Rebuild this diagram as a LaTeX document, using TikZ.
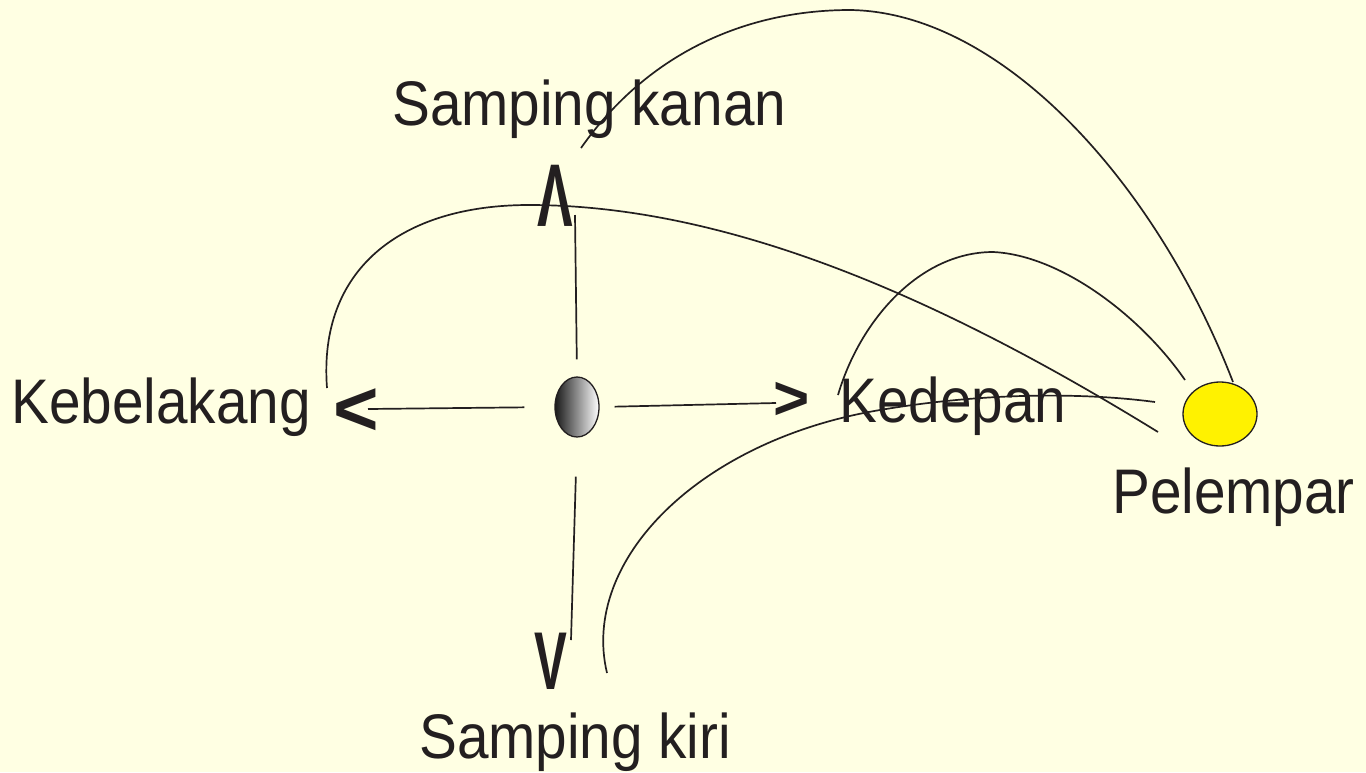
\documentclass[tikz,border=0pt]{standalone}
\usepackage{fontspec}
\setmainfont{Liberation Sans}
\newfontfamily\wordfont[FakeStretch=0.9]{Liberation Sans}
\newfontfamily\chevfont[FakeStretch=0.6]{Liberation Sans}
\usetikzlibrary{positioning,calc,shapes.geometric}
\definecolor{paper}{HTML}{FFFFE3}
\definecolor{ink}{HTML}{231F20}

\begin{document}
\begin{tikzpicture}[
    x=1pt, y=-1pt,
    word/.style={font=\wordfont\fontsize{63}{70}\selectfont, text=ink, inner sep=0pt, anchor=base west},
    chevron/.style={font=\chevfont\bfseries\fontsize{#1}{#1}\selectfont, text=ink, inner sep=0pt, anchor=base},
    sign/.style={font=\bfseries\fontsize{#1}{#1}\selectfont, text=ink, inner sep=0pt, anchor=base},
    ball/.style={draw=ink, ellipse, line width=1.3pt, minimum width=44pt, minimum height=60pt, left color=black!90, right color=white},
    thrower/.style={draw=ink, ellipse, line width=1.3pt, fill=yellow, minimum width=74pt, minimum height=64pt},
    wire/.style={draw=ink, line width=1.7pt}
]
\fill[paper] (0,0) rectangle (1366,772);
\useasboundingbox (0,0) rectangle (1366,772);

% Nodes
\node[ball] (ball) at (577,407) {};
\node[thrower] (thrower) at (1220,414) {};

\node[word] (kanan) at (392,125) {Samping kanan};
\node[word] (kiri) at (419,758) {Samping kiri};
\node[word] (belakang) at (11,423) {Kebelakang};
\node[word] (depan) at (839,422) {Kedepan};
\node[word] (pelempar) at (1112,513) {Pelempar};

\node[chevron=89] (upmark) at (555,226) {Λ};
\node[chevron=82] (downmark) at (551,689) {V};
\node[sign=78] (leftmark) at (356,435) {<};
\node[sign=62] (rightmark) at (792,419) {>};

% Line ends
\coordinate (upend) at (575,215);
\coordinate (downend) at (571,640);
\coordinate (leftend) at (368,409);
\coordinate (rightend) at (776,403);

\coordinate (kananstart) at (581,148);
\coordinate (belakangstart) at (327,388);
\coordinate (depanstart) at (838,395);
\coordinate (kiristart) at (607,673);

\coordinate (kananend) at (1233,382);
\coordinate (belakangend) at (1158,432);
\coordinate (depanend) at (1185,380);
\coordinate (kiriend) at (1155,402);

% Connections
\draw[wire, shorten <=17pt] (ball.north) -- (upend);
\draw[wire, shorten <=39pt] (ball.south) -- (downend);
\draw[wire, shorten <=30pt] (ball.west) -- (leftend);
\draw[wire, shorten <=15pt] (ball.east) -- (rightend);

\draw[wire] (kananstart) .. controls (650,50) and (750,10) .. (850,10)
    .. controls (1000,12) and (1155,180) .. (kananend);
\draw[wire] (belakangstart) .. controls (318,270) and (400,205) .. (529,205)
    .. controls (740,205) and (960,310) .. (belakangend);
\draw[wire] (depanstart) .. controls (860,320) and (920,252) .. (993,252)
    .. controls (1060,255) and (1140,315) .. (depanend);
\draw[wire] (kiristart) .. controls (580,560) and (700,440) .. (880,410)
    .. controls (980,393) and (1080,392) .. (kiriend);

\end{tikzpicture}
\end{document}
